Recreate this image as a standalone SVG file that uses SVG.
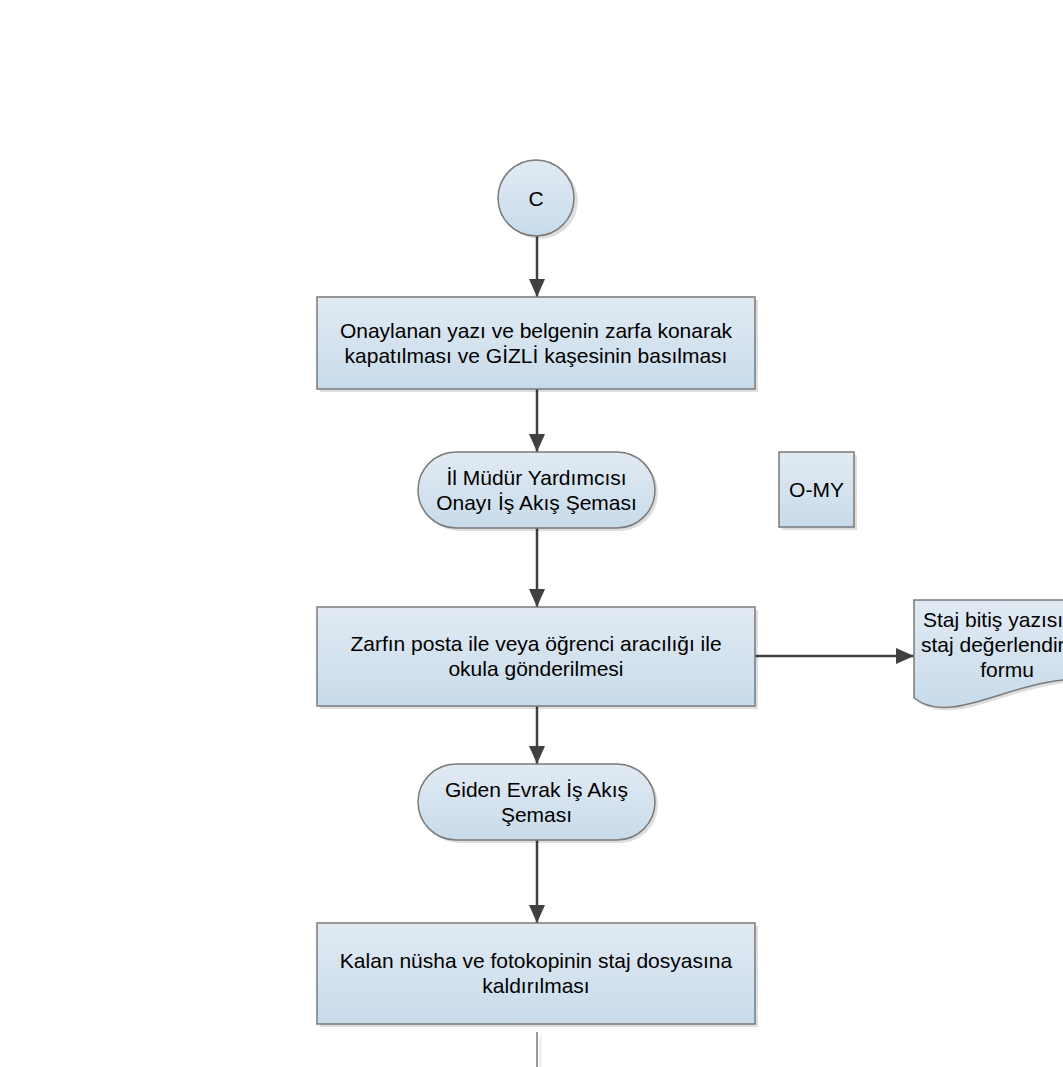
<svg xmlns="http://www.w3.org/2000/svg" width="1063" height="1067" viewBox="0 0 1063 1067">
<defs>
<linearGradient id="g" x1="0" y1="0" x2="0" y2="1">
<stop offset="0" stop-color="#e1eaf3"/>
<stop offset="1" stop-color="#c8dbea"/>
</linearGradient>
<marker id="ah" markerWidth="10" markerHeight="10" refX="9" refY="5" orient="auto" markerUnits="userSpaceOnUse" viewBox="0 0 10 10">
<path d="M0,0 L10,5 L0,10 z" fill="#404040"/>
</marker>
<marker id="arr" viewBox="0 0 18 16" refX="18" refY="8" markerWidth="18" markerHeight="16" orient="auto" markerUnits="userSpaceOnUse">
<path d="M0,0 L18,8 L0,16 z" fill="#404040"/>
</marker>
</defs>
<style>
.shape{fill:url(#g);stroke:#7a7a7a;stroke-width:1.5}
.shadow{fill:#000;opacity:0.13}
.t{font-family:"Liberation Sans",Arial,sans-serif;font-size:21px;fill:#000;text-anchor:middle}
.c{stroke:#404040;stroke-width:2.5;fill:none;marker-end:url(#arr)}
</style>
<rect width="1063" height="1067" fill="#fff"/>
<g id="connectors">
<line class="c" x1="537" y1="236" x2="537" y2="297"/>
<line class="c" x1="537" y1="389" x2="537" y2="452"/>
<line class="c" x1="537" y1="528" x2="537" y2="607"/>
<line class="c" x1="537" y1="706" x2="537" y2="764"/>
<line class="c" x1="537" y1="840" x2="537" y2="923"/>
<line class="c" x1="755" y1="656" x2="914" y2="656"/>
<line x1="540.5" y1="1036" x2="540.5" y2="1067" stroke="#ececec" stroke-width="2"/>
<line x1="537" y1="1032" x2="537" y2="1067" stroke="#999" stroke-width="2"/>
</g>
<g id="node-c">
<circle class="shadow" cx="540" cy="201" r="38"/>
<circle class="shape" cx="536" cy="198" r="38"/>
<text class="t" x="536" y="205.5">C</text>
</g>
<g id="node-zarf">
<rect class="shadow" x="320" y="300" width="438" height="92"/>
<rect class="shape" x="317" y="297" width="438" height="92"/>
<text class="t" x="536" y="338">Onaylanan yazı ve belgenin zarfa konarak</text>
<text class="t" x="536" y="363">kapatılması ve GİZLİ kaşesinin basılması</text>
</g>
<g id="node-ilmudur">
<rect class="shadow" x="421" y="455" width="237" height="76" rx="38"/>
<rect class="shape" x="418" y="452" width="237" height="76" rx="38"/>
<text class="t" x="536.5" y="485">İl Müdür Yardımcısı</text>
<text class="t" x="536.5" y="510">Onayı İş Akış Şeması</text>
</g>
<g id="node-omy">
<rect class="shadow" x="782" y="455" width="75" height="75"/>
<rect class="shape" x="779" y="452" width="75" height="75"/>
<text class="t" x="816.5" y="497">O-MY</text>
</g>
<g id="node-posta">
<rect class="shadow" x="320" y="610" width="438" height="99"/>
<rect class="shape" x="317" y="607" width="438" height="99"/>
<text class="t" x="536" y="651">Zarfın posta ile veya öğrenci aracılığı ile</text>
<text class="t" x="536" y="676">okula gönderilmesi</text>
</g>
<g id="node-staj">
<path class="shadow" d="M917,603 H1103 V683 C1023,673 958,733 917,701 Z"/>
<path class="shape" d="M914,600 H1100 V680 C1020,670 955,730 914,698 Z"/>
<text class="t" x="923" y="627" style="text-anchor:start">Staj bitiş yazısı</text>
<text class="t" x="921" y="652" style="text-anchor:start">staj değerlendir</text>
<text class="t" x="1007" y="677">formu</text>
</g>
<g id="node-giden">
<rect class="shadow" x="421" y="767" width="237" height="76" rx="38"/>
<rect class="shape" x="418" y="764" width="237" height="76" rx="38"/>
<text class="t" x="536.5" y="797">Giden Evrak İş Akış</text>
<text class="t" x="536.5" y="822">Şeması</text>
</g>
<g id="node-kalan">
<rect class="shadow" x="320" y="926" width="438" height="101"/>
<rect class="shape" x="317" y="923" width="438" height="101"/>
<text class="t" x="536" y="968">Kalan nüsha ve fotokopinin staj dosyasına</text>
<text class="t" x="536" y="993">kaldırılması</text>
</g>
</svg>
